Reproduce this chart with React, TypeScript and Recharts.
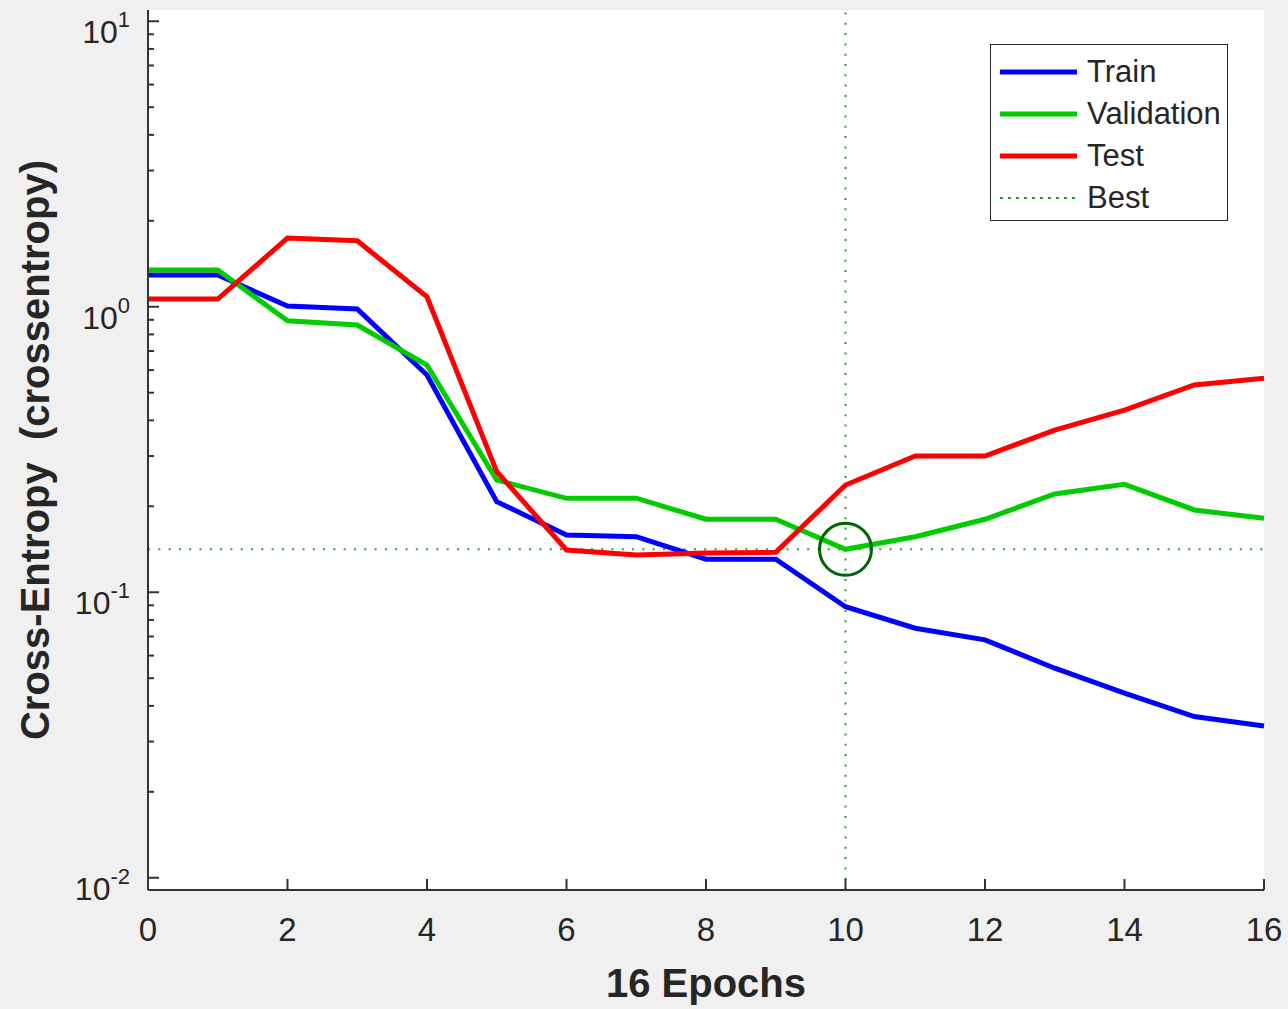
import { LineChart, Line, XAxis, YAxis, CartesianGrid, ReferenceLine, ReferenceDot, Legend } from "recharts";

const epochs = [0, 1, 2, 3, 4, 5, 6, 7, 8, 9, 10, 11, 12, 13, 14, 15, 16];
const train = [1.291, 1.291, 1.006, 0.982, 0.5765, 0.2076, 0.1587, 0.1565, 0.1305, 0.1305, 0.089, 0.0748, 0.0681, 0.0542, 0.0443, 0.0367, 0.034];
const validation = [1.345, 1.345, 0.893, 0.863, 0.625, 0.2472, 0.2133, 0.2135, 0.1802, 0.1802, 0.1414, 0.1565, 0.1802, 0.2209, 0.2388, 0.1942, 0.1816];
const test = [1.064, 1.064, 1.74, 1.702, 1.084, 0.2644, 0.1406, 0.1351, 0.1373, 0.138, 0.2375, 0.3, 0.3, 0.37, 0.4346, 0.532, 0.5614];
const bestEpoch = 10;
const bestValue = 0.1414;

const xTicks = [0, 2, 4, 6, 8, 10, 12, 14, 16];
const yMajor = [0.01, 0.1, 1, 10];
const yMinor = [
  0.02, 0.03, 0.04, 0.05, 0.06, 0.07, 0.08, 0.09,
  0.2, 0.3, 0.4, 0.5, 0.6, 0.7, 0.8, 0.9,
  2, 3, 4, 5, 6, 7, 8, 9,
];
const series = [
  { key: "train", name: "Train", color: "#0000ff" },
  { key: "validation", name: "Validation", color: "#00cc00" },
  { key: "test", name: "Test", color: "#ff0000" },
];

const data = epochs.map((e, i) => ({
  epoch: e,
  train: train[i],
  validation: validation[i],
  test: test[i],
}));

const FONT = '"Liberation Sans", Arial, Helvetica, sans-serif';
const TEXT = "#262626";
const AXIS = "#333333";
const BEST = "#2e9e2e";

function XTick({ x, y, payload }: any) {
  return (
    <g>
      <line x1={x} x2={x} y1={y} y2={y - 11} stroke={AXIS} strokeWidth={2} />
      <text x={x} y={y + 51} textAnchor="middle" fill={TEXT} fontSize={33} fontFamily={FONT}>
        {payload.value}
      </text>
    </g>
  );
}

function YTick({ x, y, payload }: any) {
  const lg = Math.log10(payload.value);
  const exp = Math.round(lg);
  const major = Math.abs(lg - exp) < 1e-6;
  return (
    <g>
      <line x1={x} x2={x + (major ? 11 : 6)} y1={y} y2={y} stroke={AXIS} strokeWidth={2} />
      {major && (
        <text x={x - 18} y={y + 22} textAnchor="end" fill={TEXT} fontSize={32} fontFamily={FONT}>
          10
          <tspan dy={-16} fontSize={22}>
            {exp}
          </tspan>
        </text>
      )}
    </g>
  );
}

function XTitle({ viewBox }: any) {
  return (
    <text
      x={viewBox.x + viewBox.width / 2}
      y={viewBox.y + 107}
      textAnchor="middle"
      fill={TEXT}
      fontSize={40}
      fontWeight="bold"
      fontFamily={FONT}
    >
      16 Epochs
    </text>
  );
}

function YTitle({ viewBox }: any) {
  const cx = 49;
  const cy = viewBox.y + viewBox.height / 2;
  return (
    <text
      x={cx}
      y={cy}
      transform={`rotate(-90, ${cx}, ${cy})`}
      textAnchor="middle"
      fill={TEXT}
      fontSize={40}
      fontWeight="bold"
      fontFamily={FONT}
      style={{ whiteSpace: "pre" }}
    >
      {"Cross-Entropy  (crossentropy)"}
    </text>
  );
}

function LegendBox() {
  const rows = [
    ...series.map((s) => ({ name: s.name, color: s.color, dotted: false })),
    { name: "Best", color: BEST, dotted: true },
  ];
  return (
    <div
      style={{
        width: 236,
        height: 175,
        border: "1.5px solid #262626",
        background: "#fff",
        fontFamily: FONT,
        fontSize: 31,
        color: TEXT,
        position: "relative",
      }}
    >
      {rows.map((r, i) => (
        <div
          key={r.name}
          style={{ position: "absolute", left: 0, top: 6 + i * 42, height: 42, display: "flex", alignItems: "center" }}
        >
          <svg width={96} height={10} style={{ display: "block" }}>
            <line
              x1={9}
              x2={86}
              y1={5}
              y2={5}
              stroke={r.color}
              strokeWidth={r.dotted ? 2 : 5}
              strokeDasharray={r.dotted ? "3 5" : undefined}
            />
          </svg>
          <span style={{ lineHeight: "42px" }}>{r.name}</span>
        </div>
      ))}
    </div>
  );
}

export default function App() {
  return (
    <div style={{ position: "absolute", left: 0, top: 0, width: 1288, height: 1009, background: "#f0f0f0" }}>
      <LineChart width={1288} height={1009} data={data} margin={{ top: 10, right: 24, left: 88, bottom: 69 }}>
        <CartesianGrid fill="#ffffff" horizontal={false} vertical={false} />
        <XAxis
          dataKey="epoch"
          type="number"
          domain={[0, 16]}
          ticks={xTicks}
          interval={0}
          height={50}
          tickSize={0}
          tickMargin={0}
          tickLine={false}
          axisLine={{ stroke: AXIS, strokeWidth: 2 }}
          tick={<XTick />}
          label={<XTitle />}
        />
        <YAxis
          type="number"
          scale="log"
          domain={[0.00906, 10.95]}
          allowDataOverflow
          ticks={[...yMajor, ...yMinor]}
          interval={0}
          width={60}
          tickSize={0}
          tickMargin={0}
          tickLine={false}
          axisLine={{ stroke: AXIS, strokeWidth: 2 }}
          tick={<YTick />}
          label={<YTitle />}
        />
        <ReferenceLine y={bestValue} stroke={BEST} strokeWidth={2} strokeDasharray="2 8.3" />
        <ReferenceLine x={bestEpoch} stroke={BEST} strokeWidth={2} strokeDasharray="2 8.3" />
        {series.map((s) => (
          <Line
            key={s.key}
            type="linear"
            dataKey={s.key}
            name={s.name}
            stroke={s.color}
            strokeWidth={5}
            dot={false}
            activeDot={false}
            isAnimationActive={false}
          />
        ))}
        <ReferenceDot x={bestEpoch} y={bestValue} r={26} fill="none" stroke="#006600" strokeWidth={3} />
        <Legend
          layout="vertical"
          align="center"
          verticalAlign="middle"
          content={<LegendBox />}
          wrapperStyle={{ left: 990, top: 44, width: 239, height: 178 }}
        />
      </LineChart>
    </div>
  );
}
